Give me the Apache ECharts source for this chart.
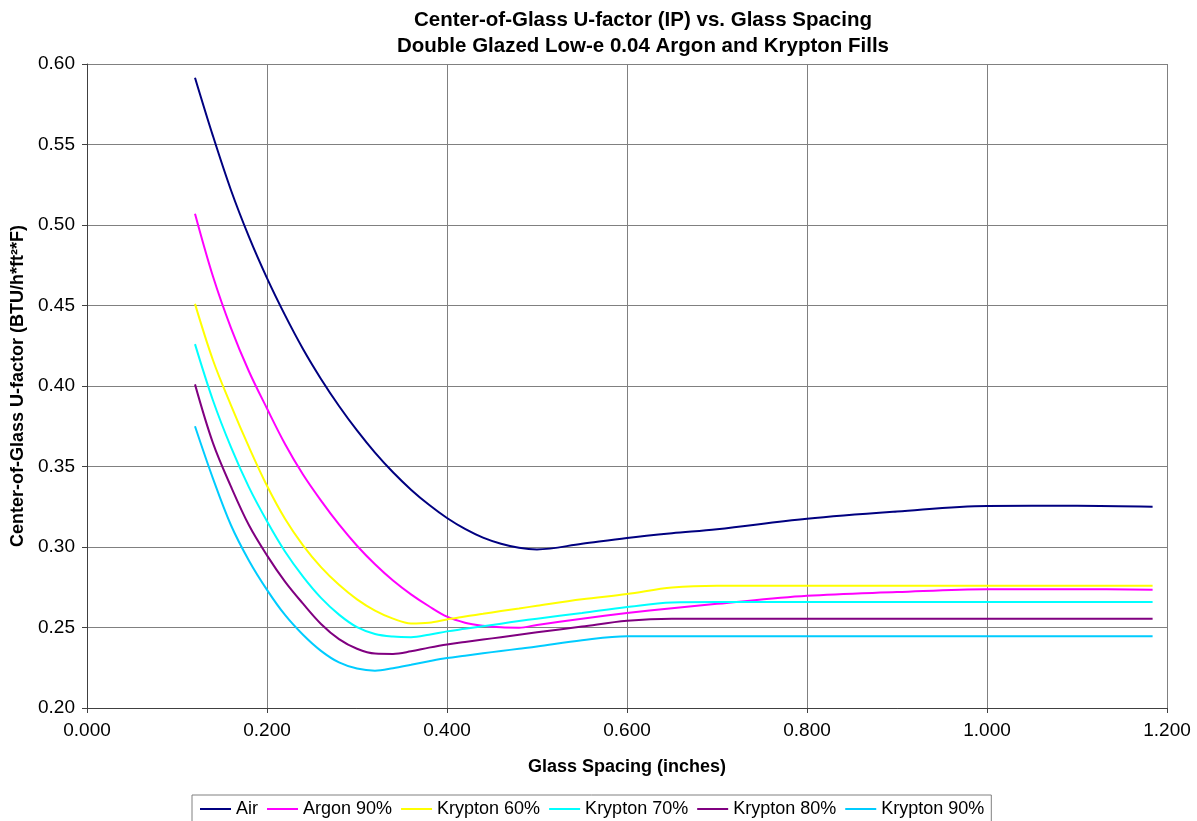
<!DOCTYPE html>
<html>
<head>
<meta charset="utf-8">
<script src="https://cdn.jsdelivr.net/npm/echarts@6/dist/echarts.min.js"></script>
<style>
html,body{margin:0;padding:0;background:#fff;}
#chart{width:1197px;height:821px;}
</style>
</head>
<body>
<div id="chart"></div>
<script>
const spacing = [0.12, 0.14, 0.16, 0.18, 0.20, 0.22, 0.24, 0.26, 0.28, 0.30, 0.32, 0.34, 0.36, 0.38, 0.40, 0.42, 0.44, 0.46, 0.48, 0.50, 0.55, 0.60, 0.65, 0.70, 0.80, 0.90, 1.00, 1.10, 1.184];

const air       = [0.5915, 0.5552, 0.5216, 0.4926, 0.467, 0.444, 0.423, 0.4044, 0.3876, 0.3724, 0.3586, 0.3464, 0.3356, 0.3262, 0.318, 0.3112, 0.3058, 0.302, 0.2995, 0.2985, 0.302, 0.3056, 0.3085, 0.311, 0.3175, 0.322, 0.3255, 0.3256, 0.325];
const argon90   = [0.507, 0.468, 0.436, 0.409, 0.386, 0.364, 0.345, 0.3288, 0.3140, 0.3008, 0.2893, 0.2792, 0.2706, 0.2632, 0.2567, 0.2530, 0.2511, 0.2501, 0.2499, 0.2516, 0.2555, 0.259, 0.262, 0.2647, 0.2697, 0.272, 0.2738, 0.2738, 0.2735];
const krypton60 = [0.451, 0.416, 0.388, 0.362, 0.338, 0.3175, 0.301, 0.2875, 0.2765, 0.2675, 0.2605, 0.2555, 0.2525, 0.2530, 0.2550, 0.2569, 0.2585, 0.2602, 0.2618, 0.2635, 0.2675, 0.2708, 0.2748, 0.276, 0.276, 0.276, 0.276, 0.276, 0.276];
const krypton70 = [0.426, 0.391, 0.362, 0.337, 0.316, 0.2972, 0.2816, 0.2684, 0.258, 0.2502, 0.246, 0.2444, 0.2440, 0.2455, 0.2476, 0.2492, 0.2508, 0.2524, 0.254, 0.2555, 0.259, 0.2627, 0.2655, 0.2658, 0.2658, 0.2658, 0.2658, 0.2658, 0.2658];
const krypton80 = [0.401, 0.3645, 0.3375, 0.3135, 0.2948, 0.2785, 0.2648, 0.2522, 0.2428, 0.2368, 0.2338, 0.2336, 0.2352, 0.2375, 0.2395, 0.2410, 0.2425, 0.2440, 0.2455, 0.2470, 0.2506, 0.2542, 0.2555, 0.2555, 0.2555, 0.2555, 0.2555, 0.2555, 0.2555];
const krypton90 = [0.375, 0.3425, 0.3135, 0.2915, 0.2734, 0.2578, 0.2455, 0.2355, 0.2283, 0.2245, 0.2232, 0.2247, 0.2268, 0.229, 0.2310, 0.2325, 0.2340, 0.2354, 0.2368, 0.2382, 0.2421, 0.2446, 0.2446, 0.2446, 0.2446, 0.2446, 0.2446, 0.2446, 0.2446];

const seriesNames = ['Air', 'Argon 90%', 'Krypton 60%', 'Krypton 70%', 'Krypton 80%', 'Krypton 90%'];
const seriesValues = [air, argon90, krypton60, krypton70, krypton80, krypton90];
const seriesColors = ['#000080', '#FF00FF', '#FFFF00', '#00FFFF', '#800080', '#00CCFF'];

const FONT = '"Liberation Sans", Arial, sans-serif';

const chart = echarts.init(document.getElementById('chart'));
chart.setOption({
  backgroundColor: '#ffffff',
  animation: false,
  title: {
    text: 'Center-of-Glass U-factor (IP) vs. Glass Spacing\nDouble Glazed Low-e 0.04 Argon and Krypton Fills',
    left: 638,
    textAlign: 'center',
    top: 2,
    textStyle: { fontFamily: FONT, fontSize: 20.5, fontWeight: 'bold', color: '#000', lineHeight: 26 }
  },
  grid: { left: 87, right: 30, top: 64, bottom: 113, outerBoundsMode: 'none', containLabel: false },
  legend: {
    left: 192,
    top: 795,
    orient: 'horizontal',
    icon: 'rect',
    itemWidth: 31,
    itemHeight: 2,
    itemGap: 9,
    padding: [5, 7, 20, 8],
    borderColor: '#808080',
    borderWidth: 1,
    textStyle: { fontFamily: FONT, fontSize: 18, color: '#000' },
    data: seriesNames
  },
  xAxis: {
    type: 'value',
    min: 0,
    max: 1.2,
    interval: 0.2,
    name: 'Glass Spacing (inches)',
    nameLocation: 'middle',
    nameGap: 50,
    nameTextStyle: { fontFamily: FONT, fontSize: 18, fontWeight: 'bold', color: '#000' },
    axisLine: { show: true, lineStyle: { color: '#404040', width: 1 } },
    axisTick: { show: true, length: 5, inside: false, lineStyle: { color: '#404040' } },
    axisLabel: { fontFamily: FONT, fontSize: 19, color: '#000', margin: 13, formatter: v => v.toFixed(3) },
    splitLine: { show: true, lineStyle: { color: '#808080', width: 1 } }
  },
  yAxis: {
    type: 'value',
    min: 0.2,
    max: 0.6,
    interval: 0.05,
    name: 'Center-of-Glass U-factor (BTU/h*ft²*F)',
    nameLocation: 'middle',
    nameRotate: 90,
    nameGap: 59,
    nameTextStyle: { fontFamily: FONT, fontSize: 18, fontWeight: 'bold', color: '#000' },
    axisLine: { show: true, lineStyle: { color: '#404040', width: 1 } },
    axisTick: { show: true, length: 5, inside: false, lineStyle: { color: '#404040' } },
    axisLabel: { fontFamily: FONT, fontSize: 19, color: '#000', margin: 12, formatter: v => v.toFixed(2) },
    splitLine: { show: true, lineStyle: { color: '#808080', width: 1 } }
  },
  series: seriesNames.map((name, i) => ({
    name: name,
    type: 'line',
    smooth: 0.35,
    symbol: 'none',
    showSymbol: false,
    color: seriesColors[i],
    itemStyle: { color: seriesColors[i] },
    lineStyle: { color: seriesColors[i], width: 2 },
    data: spacing.map((x, j) => [x, seriesValues[i][j]])
  }))
});
</script>
</body>
</html>
